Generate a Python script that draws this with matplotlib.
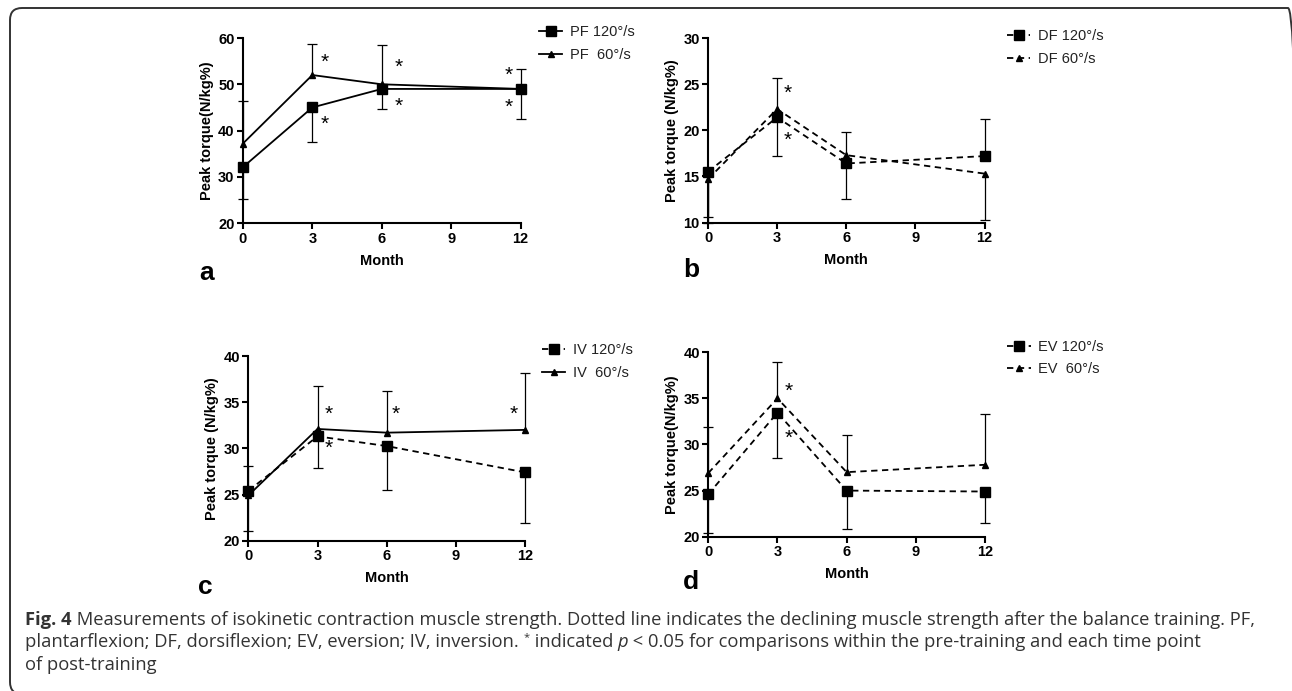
import numpy as np
import matplotlib
matplotlib.use("Agg")
import matplotlib.pyplot as plt
from matplotlib.patches import FancyBboxPatch
from matplotlib.transforms import IdentityTransform

plt.rcParams['font.family'] = ['Liberation Sans', 'DejaVu Sans']

months = [0, 3, 6, 12]

# panel a - plantarflexion
pf120 = [32.1, 45.0, 49.0, 49.0]
pf120_lo = [6.9, 7.4, 4.4, 6.4]
pf120_hi = [0, 0, 0, 0]
pf60 = [37.2, 52.0, 50.0, 49.0]
pf60_lo = [0, 0, 0, 0]
pf60_hi = [9.1, 6.7, 8.5, 4.3]
pf_stars = [(3.55, 54.7), (3.55, 41.3), (6.75, 53.6), (6.75, 45.2), (11.5, 51.9), (11.5, 45.0)]

# panel b - dorsiflexion
df120 = [15.5, 21.4, 16.4, 17.2]
df120_lo = [4.9, 4.2, 3.9, 0]
df120_hi = [0, 0, 0, 4.0]
df60 = [14.7, 22.3, 17.3, 15.3]
df60_lo = [4.7, 0, 0, 5.0]
df60_hi = [0, 3.4, 2.5, 0]
df_stars = [(3.45, 24.0), (3.45, 18.9)]

# panel c - inversion
iv120 = [25.4, 31.3, 30.25, 27.4]
iv120_lo = [0, 3.4, 4.75, 5.5]
iv120_hi = [2.7, 0, 0, 0]
iv60 = [24.9, 32.1, 31.7, 32.0]
iv60_lo = [3.8, 0, 0, 0]
iv60_hi = [0, 4.65, 4.5, 6.2]
iv_stars = [(3.5, 33.7), (3.5, 30.0), (6.4, 33.7), (11.5, 33.7)]

# panel d - eversion
ev120 = [24.6, 33.45, 25.0, 24.9]
ev120_lo = [4.2, 4.95, 4.2, 3.45]
ev120_hi = [0, 0, 0, 0]
ev60 = [26.9, 35.0, 27.0, 27.8]
ev60_lo = [0, 0, 0, 0]
ev60_hi = [5.0, 3.9, 4.0, 5.5]
ev_stars = [(3.5, 35.8), (3.5, 30.7)]


def draw_series(ax, y, lo, hi, marker, ms, ls, label):
    y = np.array(y, float)
    lo = np.array(lo, float)
    hi = np.array(hi, float)
    x = np.array(months, float)
    ax.errorbar(x, y, yerr=[lo, hi], fmt='none', ecolor='black', elinewidth=0.9,
                capsize=0, clip_on=False, zorder=2)
    top = np.where(hi > 0, y + hi, np.nan)
    bot = np.where(lo > 0, y - lo, np.nan)
    ax.plot(x, top, ls='none', marker='_', ms=7, mew=0.9, color='black', clip_on=False)
    ax.plot(x, bot, ls='none', marker='_', ms=7, mew=0.9, color='black', clip_on=False)
    if ls == '--':
        ax.plot(x, y, color='black', lw=1.3, ls=(0, (3.5, 2.5)), marker=marker, ms=ms,
                label=label, clip_on=False, zorder=3)
    else:
        ax.plot(x, y, color='black', lw=1.3, ls='-', marker=marker, ms=ms,
                label=label, clip_on=False, zorder=3)


def setup(ax, ylim, step, ylabel):
    ax.set_xlim(0, 12)
    ax.set_ylim(*ylim)
    ax.set_xticks([0, 3, 6, 9, 12])
    ax.set_yticks(np.arange(ylim[0], ylim[1] + 0.1, step))
    for s in ['top', 'right']:
        ax.spines[s].set_visible(False)
    for s in ['left', 'bottom']:
        ax.spines[s].set_linewidth(1.5)
    ax.tick_params(width=1.5, length=4, labelsize=10.5, pad=2)
    for lab in ax.get_xticklabels() + ax.get_yticklabels():
        lab.set_fontweight('bold')
    ax.set_xlabel('Month', fontsize=10.5, fontweight='bold', labelpad=6)
    ax.set_ylabel(ylabel, fontsize=10.5, fontweight='bold', labelpad=3)


def stars(ax, pts):
    for sx, sy in pts:
        ax.text(sx, sy, '*', fontsize=15, ha='center', va='center')


def legend(ax, anchor):
    ax.legend(loc='upper left', bbox_to_anchor=anchor, frameon=False, fontsize=10.5,
              handlelength=1.6, handletextpad=0.5, labelspacing=0.6,
              borderaxespad=0, labelcolor='#222222')


fig = plt.figure(figsize=(12.92, 6.91), dpi=100)

ax_a = fig.add_axes([0.188, 0.677, 0.215, 0.268])
draw_series(ax_a, pf120, pf120_lo, pf120_hi, 's', 6.5, '-', 'PF 120°/s')
draw_series(ax_a, pf60, pf60_lo, pf60_hi, '^', 5, '-', 'PF  60°/s')
setup(ax_a, (20, 60), 10, 'Peak torque(N/kg%)')
stars(ax_a, pf_stars)
legend(ax_a, (1.045, 1.1))

ax_b = fig.add_axes([0.548, 0.678, 0.214, 0.267])
draw_series(ax_b, df120, df120_lo, df120_hi, 's', 6.5, '--', 'DF 120°/s')
draw_series(ax_b, df60, df60_lo, df60_hi, '^', 5, '--', 'DF 60°/s')
setup(ax_b, (10, 30), 5, 'Peak torque (N/kg%)')
stars(ax_b, df_stars)
legend(ax_b, (1.06, 1.08))

ax_c = fig.add_axes([0.1922, 0.2175, 0.2142, 0.2673])
draw_series(ax_c, iv120, iv120_lo, iv120_hi, 's', 6.5, '--', 'IV 120°/s')
draw_series(ax_c, iv60, iv60_lo, iv60_hi, '^', 5, '-', 'IV  60°/s')
setup(ax_c, (20, 40), 5, 'Peak torque (N/kg%)')
stars(ax_c, iv_stars)
legend(ax_c, (1.04, 1.1))

ax_d = fig.add_axes([0.5482, 0.2233, 0.2142, 0.2669])
draw_series(ax_d, ev120, ev120_lo, ev120_hi, 's', 6.5, '--', 'EV 120°/s')
draw_series(ax_d, ev60, ev60_lo, ev60_hi, '^', 5, '--', 'EV  60°/s')
setup(ax_d, (20, 40), 5, 'Peak torque(N/kg%)')
stars(ax_d, ev_stars)
legend(ax_d, (1.06, 1.1))

# panel letters
for lx, ly, letter in [(199, 273, 'a'), (683, 270, 'b'), (198, 587, 'c'), (683, 582, 'd')]:
    fig.text(lx / 1292, 1 - ly / 691, letter, fontsize=19, fontweight='bold', va='center')

# frame around figure
box = FancyBboxPatch((10, -3), 1290, 686, boxstyle='round,pad=0,rounding_size=12',
                     transform=IdentityTransform(), fill=False, lw=1.4, ec='#333333')
fig.patches.append(box)

# caption
cap_font = ['Open Sans', 'DejaVu Sans']
cap_col = '#333333'
fig.canvas.draw()
rend = fig.canvas.get_renderer()


def put_segments(segs, x0, y0):
    x = x0
    for txt, kw in segs:
        t = fig.text(x / 1292, 1 - y0 / 691, txt, fontsize=kw.get('size', 13.2),
                     family=cap_font, color=cap_col,
                     fontweight=kw.get('weight', 'normal'),
                     fontstyle=kw.get('style', 'normal'), va='baseline')
        bb = t.get_window_extent(rend)
        x += bb.width
        if 'dy' in kw:
            t.set_y(1 - (y0 - kw['dy']) / 691)


put_segments([('Fig. 4', {'weight': 'bold'}),
              (' Measurements of isokinetic contraction muscle strength. Dotted line indicates the declining muscle strength after the balance training. PF,', {})],
             25, 625)
put_segments([('plantarflexion; DF, dorsiflexion; EV, eversion; IV, inversion. ', {}),
              ('*', {'size': 8, 'dy': 7}),
              (' indicated ', {}),
              ('p', {'style': 'italic'}),
              (' < 0.05 for comparisons within the pre-training and each time point', {})],
             25, 647)
put_segments([('of post-training', {})], 25, 670)

fig.savefig('out.png', dpi=100)
